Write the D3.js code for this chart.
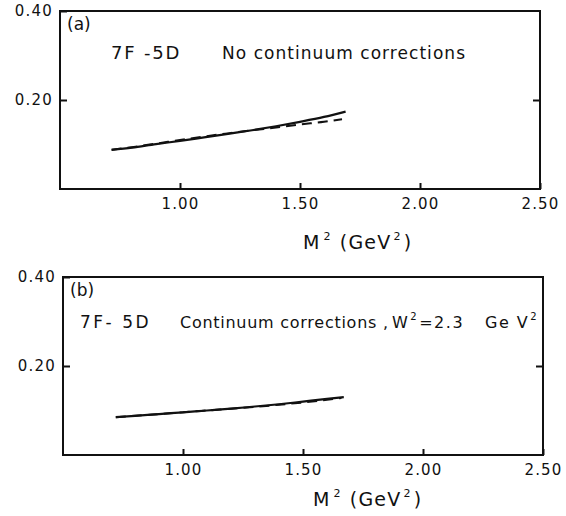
<!DOCTYPE html>
<html>
<head>
<meta charset="utf-8">
<script src="https://cdn.jsdelivr.net/npm/d3@7"></script>
<style>
  body { margin: 0; background: #fff; }
  text { font-family: "DejaVu Sans", sans-serif; fill: #111; }
</style>
</head>
<body>
<div id="chart"></div>
<script>
// M^2 (GeV^2) sample points
const xsA = [0.715, 0.8, 0.9, 1.0, 1.1, 1.2, 1.3, 1.4, 1.5, 1.6, 1.69];
const solidA = [0.088, 0.093, 0.101, 0.108, 0.116, 0.124, 0.132, 0.141, 0.151, 0.162, 0.174];
const xsADash = [0.715, 0.8, 0.9, 1.0, 1.1, 1.2, 1.3, 1.4, 1.5, 1.6, 1.675];
const dashA = [0.088, 0.094, 0.102, 0.110, 0.118, 0.125, 0.132, 0.138, 0.145, 0.151, 0.157];

const xsB = [0.72, 0.8, 0.9, 1.0, 1.1, 1.2, 1.3, 1.4, 1.5, 1.6, 1.67];
const solidB = [0.085, 0.088, 0.092, 0.096, 0.100, 0.104, 0.109, 0.114, 0.120, 0.126, 0.130];
const xsBDash = [0.72, 0.8, 0.9, 1.0, 1.1, 1.2, 1.3, 1.4, 1.5, 1.6, 1.66];
const dashB = [0.085, 0.088, 0.092, 0.096, 0.100, 0.104, 0.108, 0.113, 0.118, 0.124, 0.128];

const xTicks = [1.0, 1.5, 2.0, 2.5];
const xTickLabels = ["1.00", "1.50", "2.00", "2.50"];
const yTicks = [0.2, 0.4];
const yTickLabels = ["0.20", "0.40"];

const width = 566, height = 516;

const svg = d3.select("#chart")
  .append("svg")
  .attr("width", width)
  .attr("height", height);

function styleTicks(a) {
  a.select(".domain").remove();
  a.selectAll("line").attr("stroke", "#111").attr("stroke-width", 2);
  a.selectAll("text").attr("font-size", 15).attr("letter-spacing", 1.2)
    .attr("font-family", "DejaVu Sans").attr("fill", "#111");
}

function panel(opt) {
  const x = d3.scaleLinear().domain([0.5, 2.5]).range([opt.left, opt.right]);
  const y = d3.scaleLinear().domain([0, 0.4]).range([opt.bottom, opt.top]);
  const g = svg.append("g");

  // frame
  g.append("rect")
    .attr("x", opt.left).attr("y", opt.top)
    .attr("width", opt.right - opt.left)
    .attr("height", opt.bottom - opt.top)
    .attr("fill", "none").attr("stroke", "#111").attr("stroke-width", 2);

  // ticks point inwards
  g.append("g")
    .attr("transform", `translate(0,${opt.bottom})`)
    .call(d3.axisBottom(x).tickValues(xTicks)
      .tickFormat((d, i) => xTickLabels[i])
      .tickSizeInner(-6).tickSizeOuter(0).tickPadding(9))
    .call(styleTicks);

  g.append("g")
    .attr("transform", `translate(${opt.left},0)`)
    .call(d3.axisLeft(y).tickValues(yTicks)
      .tickFormat((d, i) => yTickLabels[i])
      .tickSizeInner(-7).tickSizeOuter(0).tickPadding(7))
    .call(styleTicks);

  g.append("g")
    .attr("transform", `translate(${opt.right},0)`)
    .call(d3.axisRight(y).tickValues([0.2]).tickFormat("")
      .tickSizeInner(-7).tickSizeOuter(0))
    .call(styleTicks);

  const line = d3.line()
    .x(d => x(d[0]))
    .y(d => y(d[1]))
    .curve(d3.curveMonotoneX);

  g.append("path")
    .attr("d", line(d3.zip(opt.xsDash, opt.dash)))
    .attr("fill", "none").attr("stroke", "#111").attr("stroke-width", 2)
    .attr("stroke-dasharray", "10,6");

  g.append("path")
    .attr("d", line(d3.zip(opt.xs, opt.solid)))
    .attr("fill", "none").attr("stroke", "#111").attr("stroke-width", 2.2);

  // panel letter
  g.append("text")
    .attr("x", opt.left + 7).attr("y", opt.top + 19)
    .attr("font-size", 17)
    .text(opt.letter);

  // x axis title M^2 (GeV^2)
  const t = g.append("text")
    .attr("x", opt.titleX).attr("y", opt.titleY)
    .attr("font-size", 19).attr("letter-spacing", 1.2);
  t.append("tspan").text("M");
  t.append("tspan").attr("font-size", 11).attr("dy", -9).attr("dx", 3).text("2");
  t.append("tspan").attr("dy", 9).attr("dx", 8).text("(GeV");
  t.append("tspan").attr("font-size", 11).attr("dy", -9).attr("dx", 2).text("2");
  t.append("tspan").attr("dy", 9).attr("dx", 2).text(")");

  return g;
}

const ga = panel({
  left: 60, right: 540, top: 11, bottom: 189,
  xs: xsA, solid: solidA, xsDash: xsADash, dash: dashA,
  letter: "(a)", titleX: 303, titleY: 249
});

ga.append("text")
  .attr("x", 111).attr("y", 59).attr("font-size", 18)
  .attr("letter-spacing", 1.8)
  .text("7F -5D");
ga.append("text")
  .attr("x", 222).attr("y", 59).attr("font-size", 17)
  .attr("textLength", 243).attr("lengthAdjust", "spacing")
  .text("No continuum corrections");

const gb = panel({
  left: 63, right: 543, top: 277, bottom: 455,
  xs: xsB, solid: solidB, xsDash: xsBDash, dash: dashB,
  letter: "(b)", titleX: 313, titleY: 506
});

gb.append("text")
  .attr("x", 80).attr("y", 328).attr("font-size", 17)
  .attr("letter-spacing", 2.5)
  .text("7F- 5D");
gb.append("text")
  .attr("x", 180).attr("y", 328).attr("font-size", 16)
  .attr("textLength", 208).attr("lengthAdjust", "spacing")
  .text("Continuum corrections ,");
const w = gb.append("text")
  .attr("x", 392).attr("y", 328).attr("font-size", 16)
  .attr("letter-spacing", 1.5);
w.append("tspan").text("W");
w.append("tspan").attr("font-size", 10).attr("dy", -8).attr("dx", 1).text("2");
w.append("tspan").attr("dy", 8).attr("dx", 1).text("=2.3");
const gev = gb.append("text")
  .attr("x", 485).attr("y", 328).attr("font-size", 16)
  .attr("letter-spacing", 1.5);
gev.append("tspan").text("Ge V");
gev.append("tspan").attr("font-size", 10).attr("dy", -8).attr("dx", 1).text("2");
</script>
</body>
</html>
